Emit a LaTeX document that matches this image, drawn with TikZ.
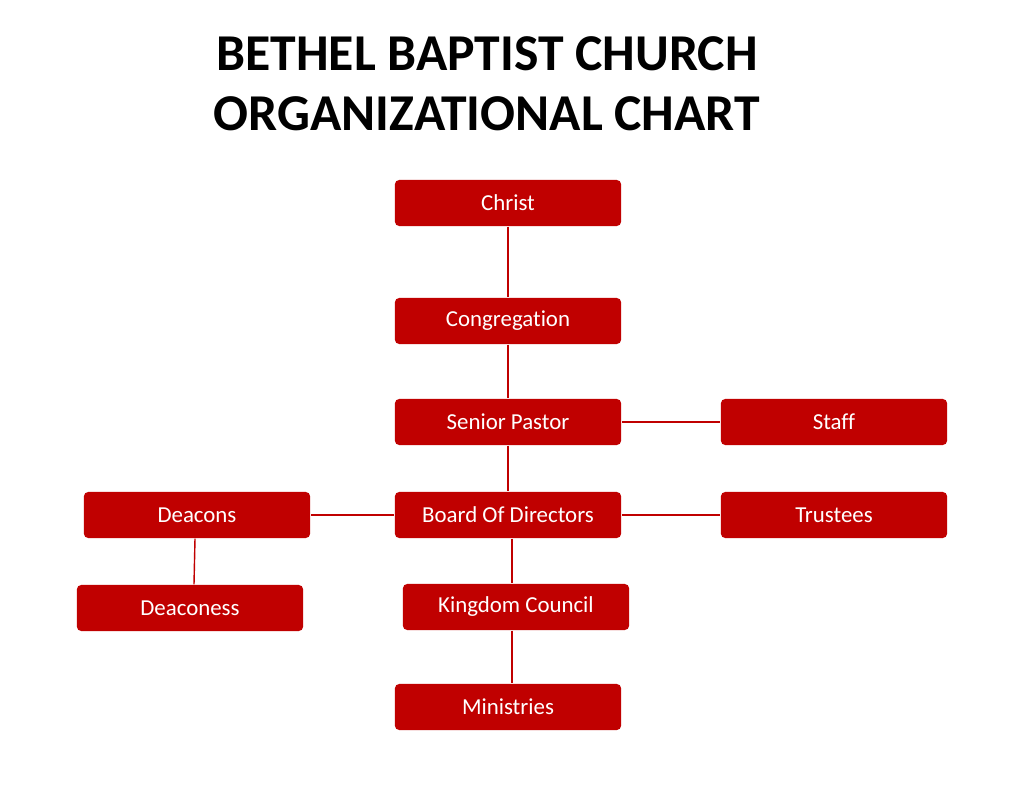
\documentclass[tikz,border=0pt]{standalone}
\usepackage{fontspec}
\setmainfont[Ligatures=CommonOff]{Carlito}
\usetikzlibrary{positioning}
\definecolor{boxred}{HTML}{C00000}
\tikzstyle{unit} = [rectangle, rounded corners=1.2pt, minimum width=2.26cm, minimum height=0.46cm, text centered, fill=boxred, text=white, font=\fontsize{6.5}{7.5}\selectfont, inner sep=0pt]
\tikzstyle{link} = [draw=boxred, line width=0.4pt]
\begin{document}
\begin{tikzpicture}[x=0.01cm, y=-0.01cm]
		\useasboundingbox (0,0) rectangle (1024,791);
		\node (title) [font=\bfseries\fontsize{14.7}{17}\selectfont, align=center] at (487,84) {BETHEL BAPTIST CHURCH\\ORGANIZATIONAL CHART};
		\node (christ) [unit] at (508,203) {Christ};
		\node (congregation) [unit] at (508,321) {Congregation};
		\node (pastor) [unit] at (508,422) {Senior Pastor};
		\node (staff) [unit] at (834,422) {Staff};
		\node (board) [unit] at (508,515) {Board Of Directors};
		\node (deacons) [unit] at (197,515) {Deacons};
		\node (trustees) [unit] at (834,515) {Trustees};
		\node (deaconess) [unit] at (190,608) {Deaconess};
		\node (council) [unit] at (516,607) {Kingdom Council};
		\node (ministries) [unit] at (508,707) {Ministries};
		\draw [link] (christ) -- (congregation);
		\draw [link] (congregation) -- (pastor);
		\draw [link] (pastor) -- (staff);
		\draw [link] (pastor) -- (board);
		\draw [link] (board) -- (deacons);
		\draw [link] (board) -- (trustees);
		\draw [link] (deacons.south) ++(-2,0) coordinate (dtop) -- (deaconess.north -| 194,0);
		\draw [link] (board.south -| 512,0) -- (council.north -| 512,0);
		\draw [link] (council.south -| 512,0) -- (ministries.north -| 512,0);
	\end{tikzpicture}
\end{document}
